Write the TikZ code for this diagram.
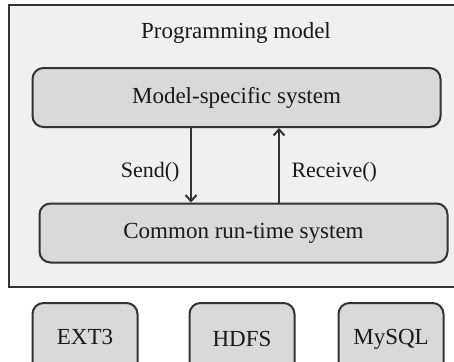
\documentclass[tikz,border=0pt]{standalone}
\usepackage{fontspec}
\setmainfont{Liberation Serif}
\usepackage{tikz}
\usetikzlibrary{positioning,arrows.meta}
\definecolor{boxgray}{rgb}{0.85, 0.85, 0.85}
\definecolor{panelgray}{rgb}{0.94, 0.94, 0.94}
\definecolor{edgegray}{rgb}{0.2, 0.2, 0.2}
\tikzstyle{layer}=[draw=edgegray, fill=boxgray, rounded corners=11pt, line width=2pt, text=black!90, font=\fontsize{23}{27}\selectfont]
\tikzstyle{wide}=[layer, minimum width=408pt, minimum height=59pt]
\tikzstyle{store}=[layer, minimum width=105pt, minimum height=72pt, anchor=north]
\tikzstyle{call}=[text=black!90, font=\fontsize{22}{26}\selectfont]
\tikzstyle{link}=[-{Straight Barb[length=6pt,width=11pt]}, line width=2pt, draw=edgegray]

\begin{document}
\begin{tikzpicture}[x=1pt, y=-1pt]
					\clip (0,0) rectangle (454,361);
					\fill[white] (0,0) rectangle (454,361);
					\draw[line width=2pt, draw=edgegray, fill=panelgray] (9,5.5) rectangle (470,286.5);
					\node[call, font=\fontsize{23}{27}\selectfont] (prog) at (236,33) {Programming model};
					\node[wide] (model) at (236.5,97.5) {Model-specific system};
					\node[wide] (common) at (243.5,233) {Common run-time system};
					\coordinate (sendx) at (191,0);
					\coordinate (recvx) at (279,0);
					\draw[link] (sendx |- model.south) -- (sendx |- common.north);
					\draw[link] (recvx |- common.north) -- (recvx |- model.south);
					\node[call, anchor=east] (send) at (183,172) {Send()};
					\node[call, anchor=west] (recv) at (288,172) {Receive()};
					\node[store] (ext) at (85,302) {\raisebox{5pt}{EXT3}};
					\node[store] (hdfs) at (242,302) {\raisebox{1pt}{HDFS}};
					\node[store] (mysql) at (391,302) {\raisebox{5pt}{MySQL}};
				\end{tikzpicture}
\end{document}
